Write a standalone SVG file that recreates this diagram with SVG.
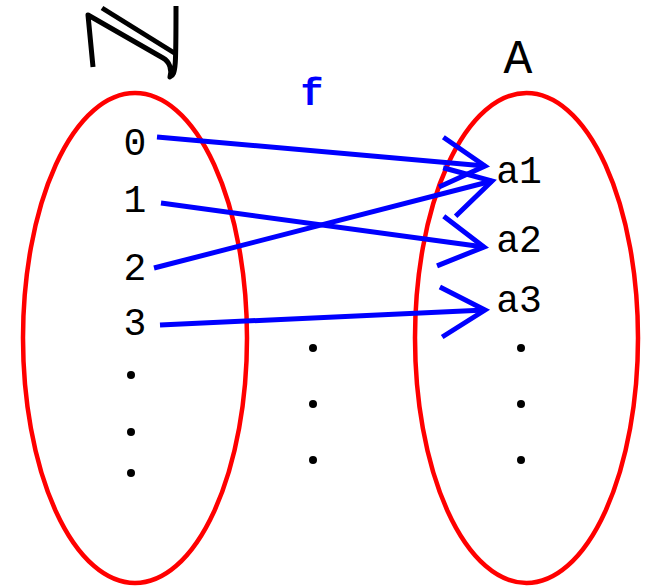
<svg xmlns="http://www.w3.org/2000/svg" width="648" height="586" viewBox="0 0 648 586">
<style>
.set{fill:none;stroke:#ff0000;stroke-width:4.5}
.lbl{font-family:"Liberation Mono",monospace;font-size:38px;fill:#000}
.arr{stroke:#0000ff;stroke-width:5;fill:none;marker-end:url(#chev)}
.dot{fill:#000}
</style>
<defs>
<marker id="chev" markerUnits="userSpaceOnUse" refX="0" refY="0" markerWidth="60" markerHeight="60" orient="auto" overflow="visible">
<path d="M-44,-25 L0,0 L-44,25" fill="none" stroke="#0000ff" stroke-width="5"/>
</marker>
</defs>
<rect width="648" height="586" fill="#fff"/>
<g id="N-symbol">
<path d="M93,67 L88,15 L163,58 C170,62 172,70 170,77 C176,75 176,65 176,6" fill="none" stroke="#000" stroke-width="5" stroke-linejoin="round"/>
<path d="M102,8 L176,54" fill="none" stroke="#000" stroke-width="5"/>
</g>
<g id="set-N">
<ellipse class="set" cx="135" cy="338" rx="112" ry="245"/>
<text class="lbl" x="135" y="155" text-anchor="middle">0</text>
<text class="lbl" x="135" y="212" text-anchor="middle">1</text>
<text class="lbl" x="135" y="280" text-anchor="middle">2</text>
<text class="lbl" x="135" y="335" text-anchor="middle">3</text>
<circle class="dot" cx="131" cy="375" r="4"/>
<circle class="dot" cx="131" cy="432" r="4"/>
<circle class="dot" cx="131" cy="473" r="4"/>
</g>
<g id="set-A">
<ellipse class="set" cx="526.5" cy="338" rx="111.5" ry="245"/>
<text class="lbl" x="518" y="73" text-anchor="middle" style="font-size:48px">A</text>
<text class="lbl" x="519" y="183" text-anchor="middle">a1</text>
<text class="lbl" x="519" y="252" text-anchor="middle">a2</text>
<text class="lbl" x="519" y="312" text-anchor="middle">a3</text>
<circle class="dot" cx="521" cy="348" r="4"/>
<circle class="dot" cx="521" cy="404" r="4"/>
<circle class="dot" cx="521" cy="460" r="4"/>
</g>
<g id="f-label">
<text x="312" y="105" text-anchor="middle" style="font-family:'Liberation Mono',monospace;font-size:38px;font-weight:bold;fill:#0000ff">f</text>
<circle class="dot" cx="313" cy="348" r="4"/>
<circle class="dot" cx="313" cy="404" r="4"/>
<circle class="dot" cx="313" cy="460" r="4"/>
</g>
<g id="connectors">
<line class="arr" x1="157" y1="137" x2="485" y2="166"/>
<line class="arr" x1="161" y1="203" x2="484" y2="247"/>
<line class="arr" x1="154" y1="268" x2="492" y2="181"/>
<line class="arr" x1="160" y1="325" x2="485" y2="310"/>
</g>
</svg>
